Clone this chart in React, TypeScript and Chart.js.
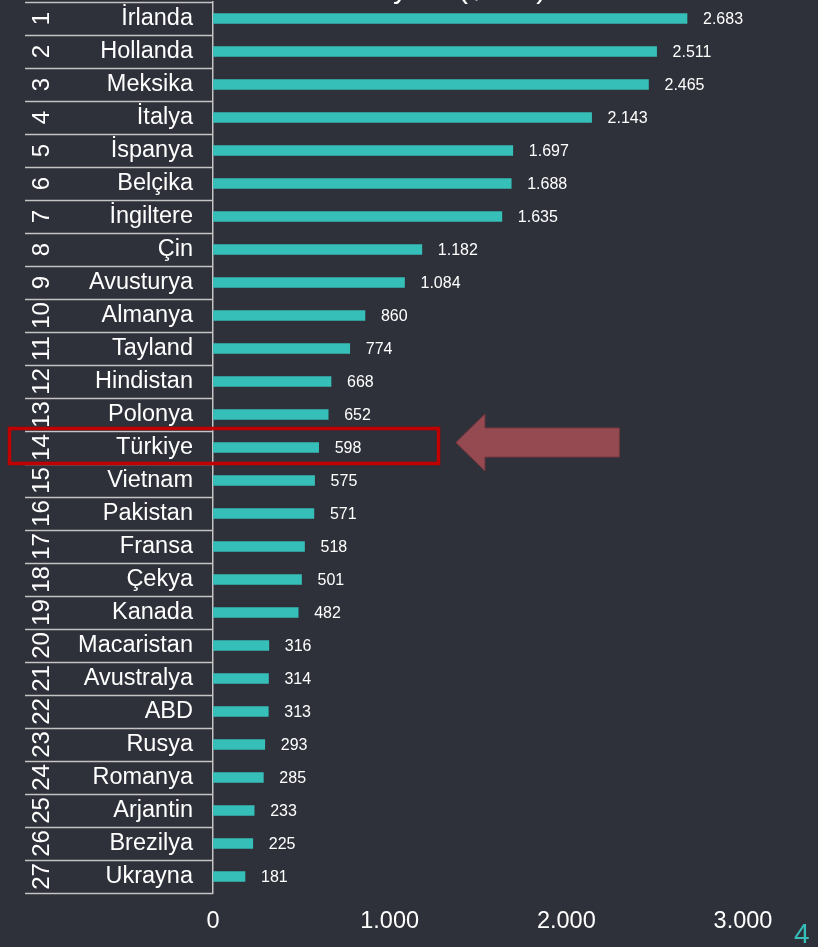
import React, { useEffect, useRef } from "react";
import { Chart, registerables } from "chart.js";

Chart.register(...registerables);

const countries = [
  "İrlanda", "Hollanda", "Meksika", "İtalya", "İspanya", "Belçika", "İngiltere",
  "Çin", "Avusturya", "Almanya", "Tayland", "Hindistan", "Polonya", "Türkiye",
  "Vietnam", "Pakistan", "Fransa", "Çekya", "Kanada", "Macaristan", "Avustralya",
  "ABD", "Rusya", "Romanya", "Arjantin", "Brezilya", "Ukrayna",
];
const values = [
  2683, 2511, 2465, 2143, 1697, 1688, 1635, 1182, 1084, 860, 774, 668, 652, 598,
  575, 571, 518, 501, 482, 316, 314, 313, 293, 285, 233, 225, 181,
];
const ranks = countries.map((_, i) => String(i + 1));
const xTicks = [0, 1000, 2000, 3000];
const highlightCountry = "Türkiye";
const titleText = "Pazar Payları ($ Bin)";
const pageNumber = "4";

const BG = "rgb(46,49,57)";
const TEAL = "rgb(54,190,184)";
const FONT = "'Liberation Sans', Arial, sans-serif";

const fmt = (v: number) => String(v).replace(/\B(?=(\d{3})+(?!\d))/g, ".");

const decorPlugin = {
  id: "decor",
  afterDraw(chart: any) {
    const { ctx, scales } = chart;
    const y = scales.y;
    const x = scales.x;
    const n = countries.length;
    const step = (y.bottom - y.top) / n;
    ctx.save();
    // table separators
    ctx.strokeStyle = "#c4c4c4";
    ctx.lineWidth = 1.5;
    for (let i = 0; i <= n; i++) {
      const yy = Math.round(y.top + i * step) + 0.5;
      ctx.beginPath();
      ctx.moveTo(25, yy);
      ctx.lineTo(x.left, yy);
      ctx.stroke();
    }
    // rank numbers
    ctx.fillStyle = "#ffffff";
    ctx.font = `24px ${FONT}`;
    ctx.textAlign = "center";
    ctx.textBaseline = "middle";
    ranks.forEach((r, i) => {
      const cy = y.getPixelForValue(i);
      ctx.save();
      ctx.translate(41, cy);
      ctx.rotate(-Math.PI / 2);
      ctx.fillText(r, 0, 1);
      ctx.restore();
    });
    // highlight box
    const hi = countries.indexOf(highlightCountry);
    const cy = y.getPixelForValue(hi);
    const top = cy - step / 2;
    ctx.strokeStyle = "rgb(192,0,0)";
    ctx.lineWidth = 3.5;
    ctx.strokeRect(9.5, top - 2.5, 429, step + 2);
    // arrow
    const ay = cy - 5;
    const tip = x.getPixelForValue(1375);
    const tail = x.getPixelForValue(2300);
    const headBase = tip + 29;
    ctx.beginPath();
    ctx.moveTo(tip, ay);
    ctx.lineTo(headBase, ay - 28.5);
    ctx.lineTo(headBase, ay - 14.5);
    ctx.lineTo(tail, ay - 14.5);
    ctx.lineTo(tail, ay + 14.5);
    ctx.lineTo(headBase, ay + 14.5);
    ctx.lineTo(headBase, ay + 28.5);
    ctx.closePath();
    ctx.fillStyle = "rgb(149,74,82)";
    ctx.fill();
    ctx.strokeStyle = "rgb(120,56,64)";
    ctx.lineWidth = 1;
    ctx.stroke();
    // title (cut off at top)
    ctx.fillStyle = "#ffffff";
    ctx.font = `30px ${FONT}`;
    ctx.textAlign = "left";
    ctx.textBaseline = "alphabetic";
    const prefix = titleText.slice(0, titleText.indexOf("("));
    const px = 458 - ctx.measureText(prefix).width;
    ctx.fillText(titleText, px, -2);
    // page number
    ctx.fillStyle = TEAL;
    ctx.font = `28px ${FONT}`;
    ctx.fillText(pageNumber, 794, 943);
    ctx.restore();
  },
  afterDatasetsDraw(chart: any) {
    const { ctx } = chart;
    const meta = chart.getDatasetMeta(0);
    ctx.save();
    ctx.fillStyle = "#ffffff";
    ctx.font = `16px ${FONT}`;
    ctx.textAlign = "left";
    ctx.textBaseline = "middle";
    meta.data.forEach((bar: any, i: number) => {
      ctx.fillText(fmt(values[i]), bar.x + 16, bar.y + 1);
    });
    ctx.restore();
  },
};

export default function App() {
  const ref = useRef<HTMLCanvasElement>(null);
  useEffect(() => {
    document.body.style.margin = "0";
    document.body.style.background = BG;
    const chart = new Chart(ref.current!, {
      type: "bar",
      data: {
        labels: countries,
        datasets: [
          {
            data: values,
            backgroundColor: TEAL,
            barThickness: 10,
          },
        ],
      },
      options: {
        responsive: false,
        animation: false,
        indexAxis: "y",
        layout: { padding: { top: 2, right: 75, left: 0, bottom: 0 } },
        plugins: { legend: { display: false }, tooltip: { enabled: false }, title: { display: false } },
        scales: {
          y: {
            grid: { display: false, drawTicks: false },
            border: { display: true, color: "#c4c4c4", width: 1.5 },
            ticks: {
              color: "#ffffff",
              padding: 20,
              font: { size: 23.5, family: FONT },
              autoSkip: false,
            },
            afterFit: (s: any) => {
              s.width = 213;
              s.paddingTop = 0;
              s.paddingBottom = 0;
              s.paddingLeft = 0;
              s.paddingRight = 0;
            },
          },
          x: {
            min: 0,
            max: 3000,
            afterBuildTicks: (s: any) => {
              s.ticks = xTicks.map((v) => ({ value: v }));
            },
            grid: { display: false, drawTicks: false },
            border: { display: false },
            ticks: {
              color: "#ffffff",
              padding: 14.5,
              font: { size: 23.5, family: FONT },
              maxRotation: 0,
              callback: (v: any) => fmt(Number(v)),
            },
            afterFit: (s: any) => {
              s.height = 54;
              s.paddingLeft = 0;
              s.paddingRight = 0;
              s.paddingTop = 0;
              s.paddingBottom = 0;
            },
          },
        },
      },
      plugins: [decorPlugin],
    });
    return () => chart.destroy();
  }, []);
  return (
    <div style={{ width: 818, height: 947, background: BG }}>
      <canvas ref={ref} width={818} height={947} style={{ display: "block" }} />
    </div>
  );
}
